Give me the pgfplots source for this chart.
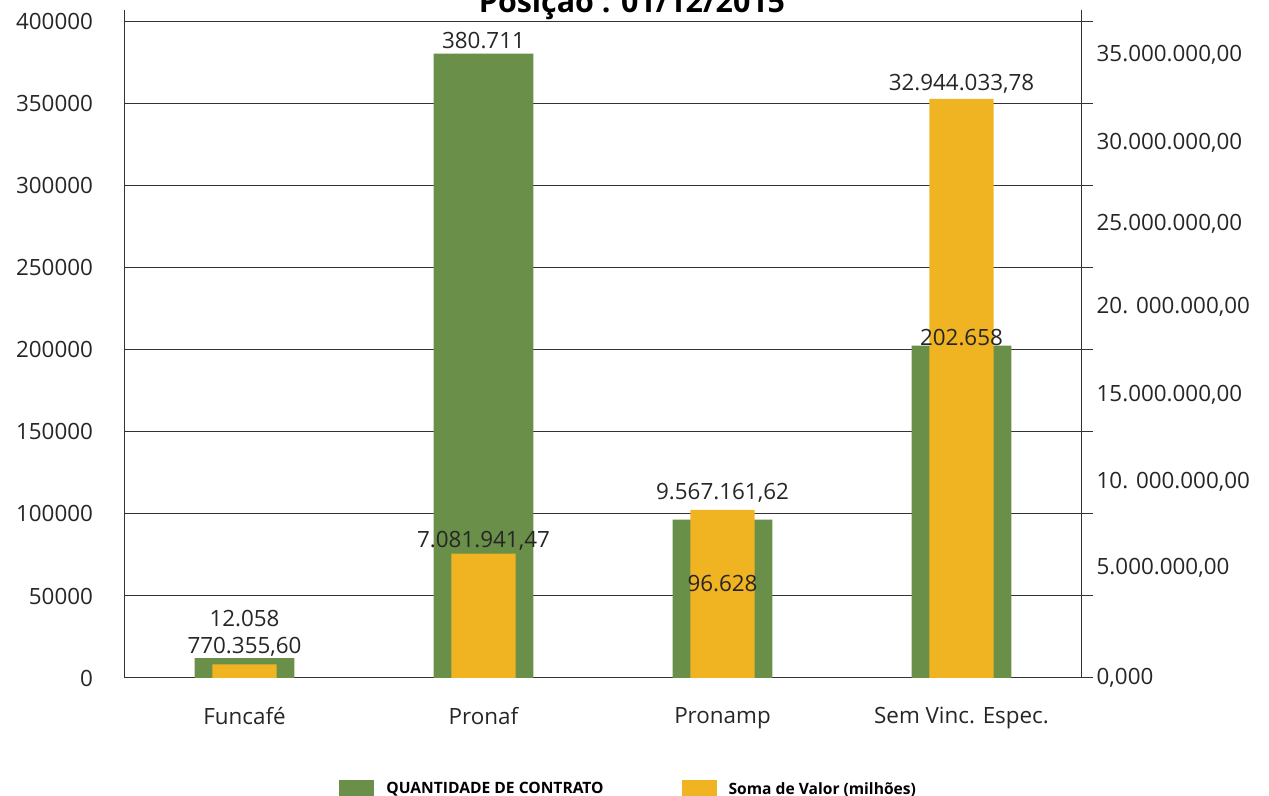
\documentclass[border=0pt]{standalone}
\usepackage{fontspec}
\setmainfont{Open Sans}
\usepackage{pgfplots}
\usepackage{pgfplotstable}
\pgfplotsset{compat=1.18}

\definecolor{verde}{RGB}{106,143,72}
\definecolor{amarelo}{RGB}{240,179,34}

% quantidade de contratos (eixo da esquerda)
\pgfplotstableread{
x  y       lbl      dy
0  12058   12.058   12.35
1  380711  380.711  -1
2  96628   96.628   -39.5
3  202658  202.658  -3.45
}\contratos

% soma de valor (eixo da direita)
\pgfplotstableread{
x  y            lbl             dy
0  770355.60    770.355,60      0.5
1  7081941.47   7.081.941,47    -2
2  9567161.62   9.567.161,62    0.15
3  32944033.78  32.944.033,78   -0.8
}\valores

\pgfplotsset{
  base/.style={width=478pt, height=334pt, scale only axis,
    xmin=-0.5, xmax=3.5, ymin=0,
    /pgf/number format/assume math mode=true,
    ticklabel style={font=\fontsize{11.2}{13}\selectfont, text=black!85}},
  rotulos/.style={point meta=explicit symbolic, nodes near coords,
    visualization depends on={\thisrow{dy} \as \dy},
    nodes near coords style={font=\fontsize{11.2}{13}\selectfont,
      text=black!85, yshift=\dy pt}},
  quadrado/.style={legend image code/.code={\fill[##1] (0pt,-5pt) rectangle (17.5pt,5pt);}},
}

\begin{document}
\begin{tikzpicture}
\begin{axis}[base, ymax=407300,
  axis x line*=bottom, axis y line*=left,
  axis line style={black!80, line width=0.5pt},
  ytick={0,50000,...,400000}, scaled y ticks=false,
  yticklabel style={/pgf/number format/fixed, /pgf/number format/1000 sep={}},
  ymajorgrids, grid style={black!80, line width=0.5pt},
  major tick length=0pt,
  xtick={0,1,2,3},
  xticklabels={Funcafé, Pronaf, Pronamp, Sem Vinc. Espec.},
  xticklabel style={yshift=-11pt},
  yticklabel style={xshift=-12.5pt},
  title={Posição : 01/12/2015},
  title style={font=\bfseries\fontsize{15.2}{18}\selectfont,
    at={(axis description cs:0.5,1)}, anchor=base, xshift=14.5pt, yshift=-7.25pt},
  legend style={at={(rel axis cs:0,0)}, anchor=north west,
    xshift=104pt, yshift=-48pt, draw=none, fill=none,
    font=\bfseries\fontsize{7.8}{9}\selectfont,
    /tikz/every odd column/.append style={column sep=4pt},
    /tikz/every even column/.append style={column sep=37pt}},
  legend columns=2]
\addplot[ybar, bar width=0.418, fill=verde, draw=none, quadrado]
  table[x=x, y=y] {\contratos};
\addlegendentry{QUANTIDADE DE CONTRATO}
\addlegendimage{fill=amarelo, draw=none, quadrado}
\addlegendentry{Soma de Valor (milhões)}
\coordinate (bl) at (rel axis cs:0,0);
\coordinate (tr) at (rel axis cs:1,1);
\end{axis}

\begin{axis}[base, ymax=38e6,
  axis x line=none, axis y line*=right,
  axis line style={black!80, line width=0.5pt},
  ytick={0,4664866,9329732,13994598,18659464,23324330,27989196,32654062,37318928},
  yticklabels={},
  tick align=outside, major tick length=6pt,
  tick style={black!80, line width=0.5pt},
  extra y ticks={0,6257485,11149701,16098802,21104790,25826347,30434132,35440120},
  extra y tick labels={{0,000},{5.000.000,00},{10. 000.000,00},{15.000.000,00},
    {20. 000.000,00},{25.000.000,00},{30.000.000,00},{35.000.000,00}},
  extra y tick style={major tick length=0pt},
  yticklabel style={xshift=4.3pt}]
\addplot[ybar, bar width=0.268, fill=amarelo, draw=none, rotulos]
  table[x=x, y=y, meta=lbl] {\valores};
\end{axis}

\begin{axis}[base, ymax=407300, hide axis]
\addplot[ybar, bar width=0.418, draw=none, fill=none, rotulos]
  table[x=x, y=y, meta=lbl] {\contratos};
\end{axis}

\pgfresetboundingbox
\useasboundingbox ([xshift=-62.5pt,yshift=-59pt]bl) rectangle ([xshift=94pt,yshift=5pt]tr);
\end{tikzpicture}
\end{document}
